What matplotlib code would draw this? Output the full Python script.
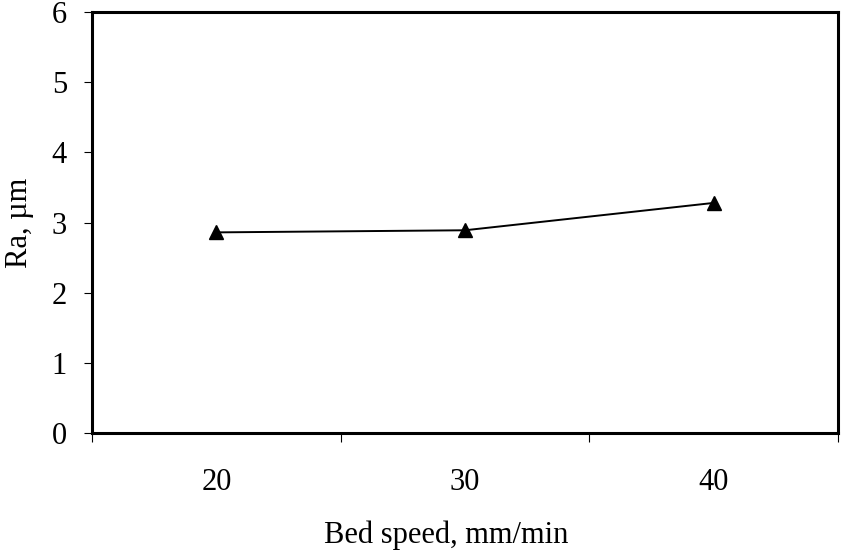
import numpy as np
import matplotlib
matplotlib.use("Agg")
import matplotlib.pyplot as plt
from matplotlib.ticker import FixedLocator

plt.rcParams['font.family'] = ['Liberation Serif', 'DejaVu Serif']

### Data ###
bed_speed = ["20", "30", "40"]
ra_values = [2.86, 2.89, 3.28]

### Plotting ###
fig = plt.figure(figsize=(8.42, 5.5), dpi=100)
ax = fig.add_axes([0.1093, 0.2127, 0.8859, 0.7653])

x = np.arange(len(bed_speed))
ax.plot(x, ra_values, color="black", linewidth=1.4, marker="^",
        markersize=10, markerfacecolor="black", markeredgecolor="black")

ax.set_xlim(-0.5, len(bed_speed) - 0.5)
ax.set_ylim(0, 6)
ax.set_yticks(range(0, 7))

# category labels centred, tick marks on the boundaries
ax.set_xticks(x)
ax.set_xticklabels(bed_speed)
ax.xaxis.set_minor_locator(FixedLocator(np.arange(-0.5, len(bed_speed), 1.0)))
ax.tick_params(axis="x", which="major", length=0, pad=25, labelsize=22)
ax.tick_params(axis="x", which="minor", length=6.5, width=0.8, direction="out")
ax.tick_params(axis="y", which="major", length=6, width=0.8, direction="out",
               pad=12, labelsize=22)

for side in ax.spines.values():
    side.set_linewidth(2.2)

ax.set_xlabel("Bed speed, mm/min", fontsize=22)
ax.set_ylabel("Ra, µm", fontsize=22)
ax.xaxis.set_label_coords(0.475, -0.208)
ax.yaxis.set_label_coords(-0.078, 0.5)

fig.savefig("out.png", dpi=100)
